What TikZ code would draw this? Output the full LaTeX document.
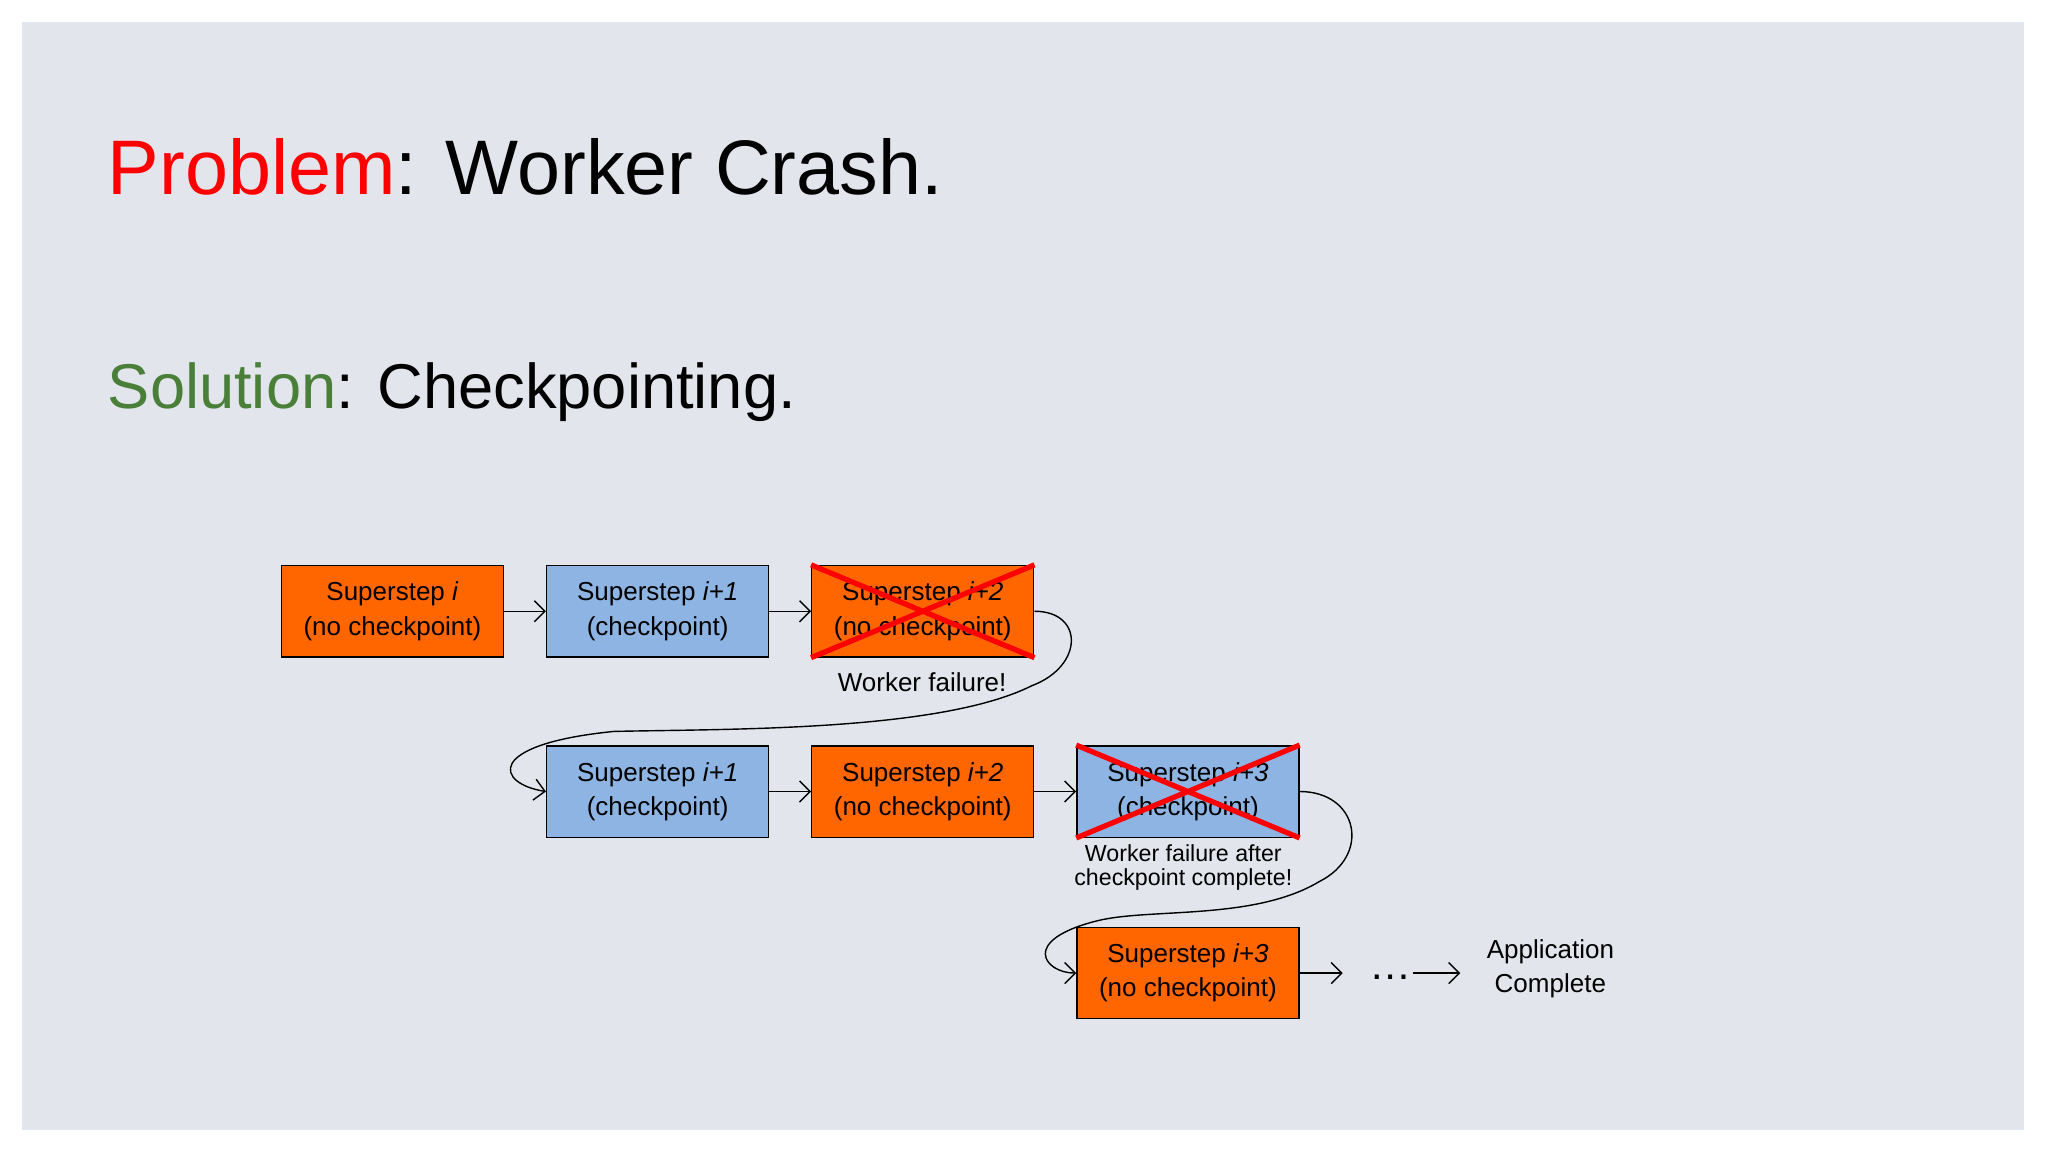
\documentclass[tikz,border=0pt]{standalone}
\usepackage{fontspec}
\setmainfont{Liberation Sans}
\usetikzlibrary{arrows.meta}
\definecolor{BG}{RGB}{227,229,237}
\definecolor{OR}{RGB}{255,102,0}
\definecolor{BL}{RGB}{142,180,227}
\definecolor{GR}{RGB}{74,127,58}
\tikzset{
  sstep/.style={draw=black, line width=0.4pt, minimum width=2.22cm, minimum height=0.914cm,
               inner sep=0pt, align=center, font=\fontsize{7.4}{9.7}\selectfont},
  nockp/.style={sstep, fill=OR},
  ckp/.style={sstep, fill=BL},
  flow/.style={-{Straight Barb[length=3pt]}, line width=0.4pt},
  kill/.style={red, line width=1.5pt},
}
\begin{document}
\begin{tikzpicture}[x=0.01306cm, y=-0.01306cm]
      \useasboundingbox (0,0) rectangle (1568,882);
      \fill[BG] (17,17) rectangle (1550,865);
      \node[anchor=west, inner sep=0pt, font=\fontsize{22}{26}\selectfont] (prob) at (82,128) {\textcolor{red}{Problem}: Worker Crash.};
      \node[anchor=west, inner sep=0pt, font=\fontsize{18}{22}\selectfont] (sol) at (82,300) {\textcolor{GR}{Solution}: Checkpointing.};
      % first run
      \node[nockp] (s1) at (300.5,468) {Superstep \textit{i}\\(no checkpoint)};
      \node[ckp] (s2) at (503.5,468) {Superstep \textit{i+1}\\(checkpoint)};
      \node[nockp] (s3) at (706.5,468) {Superstep \textit{i+2}\\(no checkpoint)};
      \draw[kill] (s3.north west) -- (s3.south east) (s3.south west) -- (s3.north east);
      \node[font=\fontsize{7.4}{9}\selectfont] (f1) at (706,522) {Worker failure!};
      % second run
      \node[ckp] (r1) at (503.5,606) {Superstep \textit{i+1}\\(checkpoint)};
      \node[nockp] (r2) at (706.5,606) {Superstep \textit{i+2}\\(no checkpoint)};
      \node[ckp] (r3) at (909.5,606) {Superstep \textit{i+3}\\(checkpoint)};
      \draw[kill] (r3.north west) -- (r3.south east) (r3.south west) -- (r3.north east);
      \node[font=\fontsize{6.6}{6.9}\selectfont, align=center] (f2) at (906,664) {Worker failure after\\checkpoint complete!};
      % third run
      \node[nockp] (t1) at (909.5,745) {Superstep \textit{i+3}\\(no checkpoint)};
      \node[font=\fontsize{12}{12}\selectfont] (dots) at (1065,748) {\dots};
      \node[font=\fontsize{7.4}{9.7}\selectfont, align=center] (done) at (1187,742) {Application\\Complete};
      \draw[flow] (s1) -- (s2);
      \draw[flow] (s2) -- (s3);
      \draw[flow] (r1) -- (r2);
      \draw[flow] (r2) -- (r3);
      \draw[flow] (t1) -- (1028,745);
      \draw[flow] (1082,745) -- (1118,745);
      \draw[flow] (s3.east) .. controls (830,468) and (830,510) .. (790,525)
        .. controls (720,560) and (560,558) .. (470,560)
        .. controls (370,570) and (380,600) .. (r1.west);
      \draw[flow] (r3.east) .. controls (1040,606) and (1050,655) .. (1010,675)
        .. controls (960,705) and (880,695) .. (840,705)
        .. controls (780,720) and (800,745) .. (t1.west);
\end{tikzpicture}
\end{document}
